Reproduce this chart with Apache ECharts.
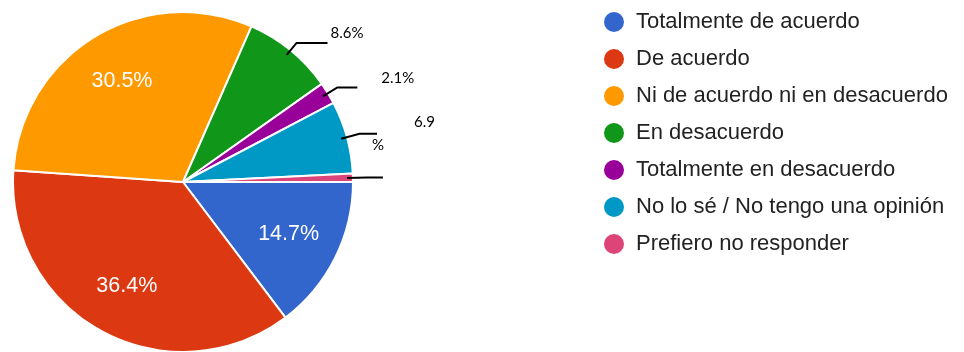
<!DOCTYPE html>
<html>
<head>
<meta charset="utf-8">
<script src="https://cdn.jsdelivr.net/npm/echarts@6/dist/echarts.min.js"></script>
<style>
  html, body { margin: 0; padding: 0; background: #fff; }
  #chart { width: 964px; height: 352px; }
</style>
</head>
<body>
<div id="chart"></div>
<script>
// Response categories, in the order they go round the pie and down the legend
const categories = [
  'Totalmente de acuerdo',
  'De acuerdo',
  'Ni de acuerdo ni en desacuerdo',
  'En desacuerdo',
  'Totalmente en desacuerdo',
  'No lo sé / No tengo una opinión',
  'Prefiero no responder'
];
// Share of responses per category (%)
const shares = [14.7, 36.4, 30.5, 8.6, 2.1, 6.9, 0.8];
// Slice colours
const palette = ['#3366cc', '#dc3912', '#ff9900', '#109618', '#990099', '#0099c6', '#dd4477'];

// Slices below this share get a leader line instead of an inside label
const calloutBelow = 10;
// Leader line lengths and text placement (relative to the line end) per category
const callouts = {
  'En desacuerdo': { len: 15.5, len2: 31, dx: 3, dy: -9.5 },
  'Totalmente en desacuerdo': { len: 17, len2: 20, dx: 24, dy: -9 },
  'No lo sé / No tengo una opinión': { len: 19, len2: 17.5, dx: -5, dy: 0, split: true },
  'Prefiero no responder': { len: 20, len2: 16, dx: 0, dy: 0, hideText: true }
};

const center = [183, 182];
const calloutFont = { fontFamily: 'Lato, "Liberation Sans", sans-serif', fontSize: 15, color: '#000' };

const sliceData = categories.map((name, i) => ({
  name: name,
  value: shares[i],
  itemStyle: { color: palette[i] }
}));

// Transparent ring on top of the pie, carrying the percentage labels and leader lines
const labelData = shares.map((v, i) => {
  const c = callouts[categories[i]];
  if (v < calloutBelow && c) {
    return {
      value: v,
      label: {
        position: 'outside',
        ...calloutFont,
        lineHeight: 23,
        rich: {
          num: { ...calloutFont, lineHeight: 23, padding: [0, 0, 0, 42] },
          pct: { ...calloutFont, lineHeight: 23 }
        }
      },
      labelLine: { show: true, length: c.len, length2: c.len2 }
    };
  }
  return { value: v, label: { position: 'inside' }, labelLine: { show: false } };
});

const chart = echarts.init(document.getElementById('chart'), null, { renderer: 'canvas' });

chart.setOption({
  backgroundColor: '#fff',
  animation: false,
  legend: {
    orient: 'vertical',
    left: 597,
    top: 5,
    icon: 'circle',
    itemWidth: 34,
    itemHeight: 22,
    itemGap: 13,
    selectedMode: false,
    data: categories,
    textStyle: {
      fontFamily: 'Arial, "Liberation Sans", sans-serif',
      fontSize: 22,
      lineHeight: 22,
      color: '#222'
    }
  },
  series: [
    {
      type: 'pie',
      z: 2,
      center: center,
      radius: 170,
      startAngle: 0,
      clockwise: true,
      avoidLabelOverlap: false,
      label: { show: false },
      labelLine: { show: false },
      emphasis: { disabled: true },
      itemStyle: { borderColor: '#fff', borderWidth: 2 },
      data: sliceData
    },
    {
      type: 'pie',
      z: 5,
      center: center,
      radius: [66, 164],
      startAngle: 0,
      clockwise: true,
      silent: true,
      avoidLabelOverlap: false,
      emphasis: { disabled: true },
      itemStyle: { color: 'rgba(0,0,0,0)', borderWidth: 0 },
      label: {
        show: true,
        color: '#fff',
        fontFamily: 'Arial, "Liberation Sans", sans-serif',
        fontSize: 21.5,
        formatter: (p) => {
          const c = callouts[categories[p.dataIndex]];
          if (p.value < calloutBelow && c) {
            if (c.hideText) return '';
            if (c.split) return '{num|' + p.value + '}\n{pct|%}';
          }
          return p.value + '%';
        }
      },
      labelLine: {
        lineStyle: { color: '#000', width: 2 }
      },
      labelLayout: (params) => {
        const c = callouts[categories[params.dataIndex]];
        const pts = params.labelLinePoints;
        if (!c || !pts || pts.length < 2) return {};
        const end = pts[pts.length - 1];
        return {
          x: end[0] + c.dx,
          y: end[1] + c.dy,
          align: 'left',
          verticalAlign: 'middle',
          labelLinePoints: pts
        };
      },
      data: labelData
    }
  ]
});
</script>
</body>
</html>
